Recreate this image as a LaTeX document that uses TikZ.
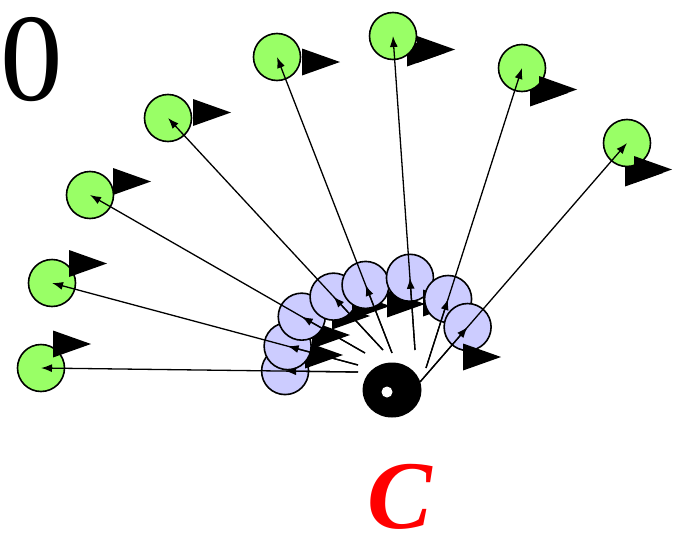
\documentclass[tikz,border=0pt]{standalone}
\usepackage{fontspec}
\setmainfont{Liberation Serif}
\usetikzlibrary{arrows.meta,calc}
\definecolor{verdeclaro}{HTML}{99FF66}
\definecolor{lila}{HTML}{CCCCFF}
\tikzstyle{edge}=[-{Latex[length=11pt,width=8pt]}, line width=1.3pt]
\newcommand{\cuna}[2]{\fill (#1,#2) -- ++(0,-13.5) -- ++(38,13.5) -- ++(-38,13.5) -- cycle;}

\begin{document}
\begin{tikzpicture}[x=1pt,y=-1pt,
        bola/.style={circle,draw=black,line width=1.6pt,minimum size=47pt,inner sep=0pt},
        final/.style={bola,fill=verdeclaro},
        medio/.style={bola,fill=lila}]
        \useasboundingbox (0,0) rectangle (683,541);
        % starting points near the centre
        \coordinate (s1) at (358,372);
        \coordinate (s2) at (358,365);
        \coordinate (s3) at (365,353);
        \coordinate (s4) at (383,350);
        \coordinate (s5) at (392,353);
        \coordinate (s6) at (415,350);
        \coordinate (s7) at (426,368);
        \coordinate (s8) at (420,382);
        % final positions
        \cuna{407}{53} \cuna{530}{93} \cuna{625}{173}
        \foreach \i/\x/\y/\tx/\ty in {1/41/368/53/344, 2/52/283/69/263.5, 3/90/195/113/181.5,
                4/168/118/193/112.5, 5/277/57/302/62, 6/393/36/417/49.5,
                7/522/68/539/89.5, 8/627/143/634/169.5}{
          \node [final] (g\i) at (\x,\y) {};
          \cuna{\tx}{\ty}
        }
        % intermediate positions
        \node [medio] (b1) at ($(s1)!0.23!(g1)$) {}; \cuna{305}{355}
        \node [medio] (b2) at ($(s2)!0.23!(g2)$) {}; \cuna{312}{335}
        \node [medio] (b3) at ($(s3)!0.23!(g3)$) {}; \cuna{332}{316}
        \node [medio] (b4) at ($(s4)!0.23!(g4)$) {}; \cuna{352}{306}
        \node [medio] (b5) at ($(s5)!0.23!(g5)$) {}; \cuna{387}{304}
        \node [medio] (b6) at ($(s6)!0.23!(g6)$) {}; \cuna{423}{303}
        \node [medio] (b7) at ($(s7)!0.23!(g7)$) {};
        \node [medio] (b8) at ($(s8)!0.23!(g8)$) {}; \cuna{463}{357}
        % centre
        \fill (392,390) ellipse (29.5 and 27.5);
        \fill [white] (387,392) circle (5.5);
        \foreach \i in {1,...,8}{
          \draw [edge] (s\i) -- (b\i.center);
          \draw [edge] (s\i) -- (g\i.center);
        }
        \node [inner sep=0pt,font=\fontsize{125}{125}\selectfont] (cero) at (32,60) {0};
        \node [inner sep=0pt,text=red,font=\fontsize{97}{97}\selectfont\bfseries\itshape] (ce) at (400,497) {C};
      \end{tikzpicture}
\end{document}
